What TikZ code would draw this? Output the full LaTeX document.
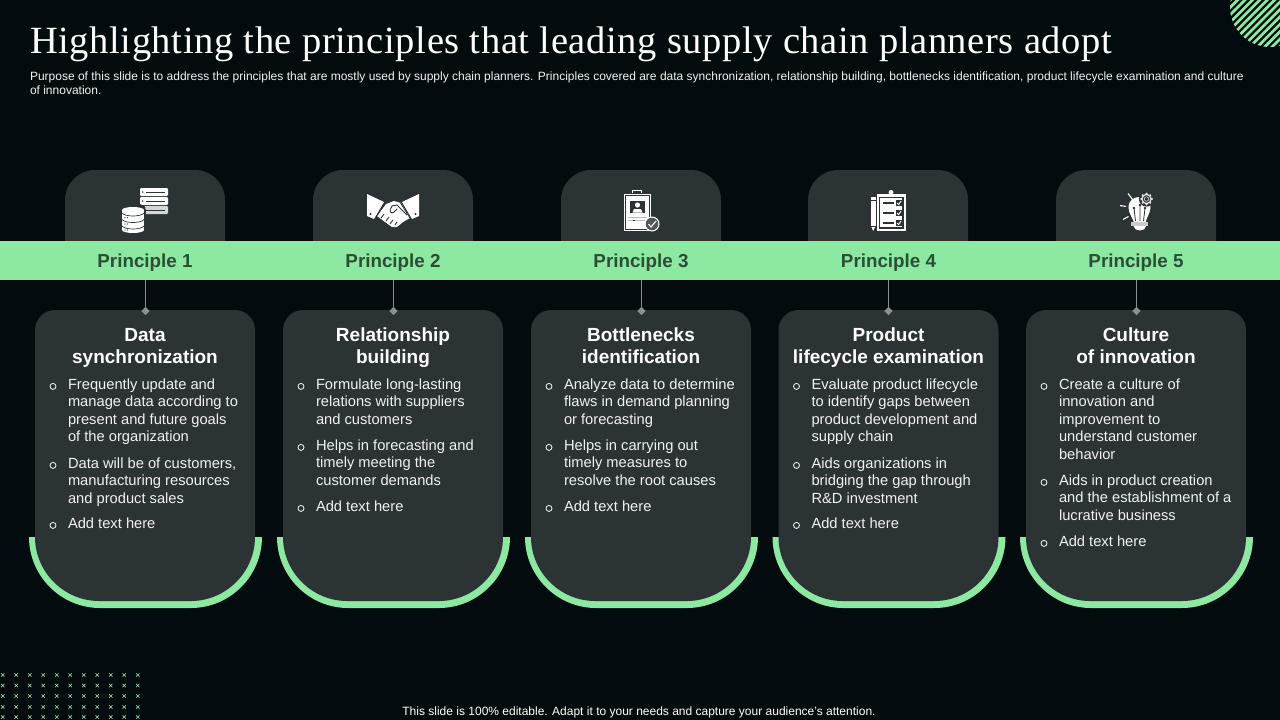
\documentclass[tikz,border=0pt]{standalone}
\usepackage{fontspec}
\setmainfont{Liberation Sans}
\newfontfamily\titlefont[LetterSpace=1.6]{Liberation Serif}
\usetikzlibrary{shapes.geometric}
\definecolor{bgc}{HTML}{020C0E}
\definecolor{cardc}{HTML}{2B3335}
\definecolor{greenc}{HTML}{8DE8A2}
\definecolor{labelc}{HTML}{2B4F35}
\definecolor{stemc}{HTML}{8A9090}
\definecolor{bodyc}{HTML}{F2F2F2}
\tikzset{
  txt/.style={inner sep=0pt,outer sep=0pt},
  bodytxt/.style={txt,anchor=north west,align=left,text=bodyc,font=\fontsize{14.7}{17.6}\selectfont},
  headtxt/.style={txt,anchor=base,align=center,text=white,font=\fontsize{19}{21.8}\selectfont\bfseries},
  bandlabel/.style={txt,anchor=base,text=labelc,font=\fontsize{18.8}{22}\selectfont\bfseries},
  bulletmark/.style={draw=bodyc,line width=0.85pt,circle,inner sep=0pt,minimum size=6pt},
  stem/.style={draw=stemc,line width=0.8pt},
  tip/.style={fill=stemc,diamond,inner sep=0pt,minimum width=8.5pt,minimum height=8.5pt},
}
\newcommand{\bul}[4]{% name, card left, baseline, text
  \node[bulletmark] (#1m) at (#2+18,#3-2.6) {};
  \node[bodytxt] (#1) at (#2+33,#3-11) {\rule{0pt}{11pt}#4};
}
\newcommand{\card}[2]{% card left, tab left
  \fill[greenc] (#1-6,537)
     .. controls (#1-6,576) and (#1+26,608) .. (#1+65,608) -- (#1+156,608)
     .. controls (#1+195,608) and (#1+227,576) .. (#1+227,537) -- cycle;
  \fill[cardc] (#1+20,310) -- (#1+200,310) .. controls (#1+211,310) and (#1+220,319) .. (#1+220,330) -- (#1+220,537)
     .. controls (#1+220,572) and (#1+191,601) .. (#1+156,601) -- (#1+64,601)
     .. controls (#1+29,601) and (#1,572) .. (#1,537) -- (#1,330) .. controls (#1,319) and (#1+9,310) .. (#1+20,310) -- cycle;
  \fill[cardc] (#2,245) -- (#2,200) .. controls (#2,183.5) and (#2+13.5,170) .. (#2+30,170) -- (#2+130,170) .. controls (#2+146.5,170) and (#2+160,183.5) .. (#2+160,200) -- (#2+160,245) -- cycle;
}
\begin{document}
\begin{tikzpicture}[x=1pt,y=-1pt]
\useasboundingbox (0,0) rectangle (1280,720);
\fill[bgc] (0,0) rectangle (1280,720);

% corner hatch
\begin{scope}
  \clip (1270,7) circle[radius=40];
  \foreach \k in {-8,...,7}{
    \draw[greenc,line width=2.7pt] (1222+\k*7.4,60) -- (1222+\k*7.4+70,-10);
  }
\end{scope}

% dots
\foreach \yy in {675,685.5,696,707,717}{
  \foreach \n in {0,...,10}{
    \pgfmathsetmacro{\xx}{2.7+\n*13.5}
    \draw[greenc!75!white,line width=0.55pt] (\xx-1.7,\yy-1.7) -- (\xx+1.7,\yy+1.7) (\xx-1.7,\yy+1.7) -- (\xx+1.7,\yy-1.7);
  }
}

% title
\node[txt,anchor=base west,text=white,font=\fontsize{38.5}{42}\selectfont\titlefont] (title) at (30,53) {Highlighting the principles that leading supply chain planners adopt};
\node[txt,anchor=north west,align=left,text=bodyc,font=\fontsize{12}{14.2}\selectfont] (sub) at (30,70) {\rule{0pt}{10.5pt}Purpose of this slide is to address the principles that are mostly used by supply chain planners. Principles covered are data synchronization, relationship building, bottlenecks identification, product lifecycle examination and culture\\of innovation.};

% cards
\card{35}{65}
\card{283}{313}
\card{531}{561}
\card{778.5}{808}
\card{1026}{1056}

% band
\node[fill=greenc,inner sep=0pt,minimum width=1280pt,minimum height=39pt,anchor=north west] (band) at (0,241) {};

% principle labels
\node[bandlabel] (p1) at (145,267.5) {Principle 1};
\node[bandlabel] (p2) at (393,267.5) {Principle 2};
\node[bandlabel] (p3) at (641,267.5) {Principle 3};
\node[bandlabel] (p4) at (888.5,267.5) {Principle 4};
\node[bandlabel] (p5) at (1136,267.5) {Principle 5};

% stems
\foreach \nm/\xx in {a/145.5,b/393.5,c/641.5,d/888.5,e/1136.5}{
  \node[tip] (t\nm) at (\xx,311) {};
  \draw[stem] (band.south -| t\nm) -- (t\nm.center);
}

% headings (base anchor is the last line)
\node[headtxt] (ha) at (145,363.3) {Data\\synchronization};
\node[headtxt] (hb) at (393,363.3) {Relationship\\building};
\node[headtxt] (hc) at (641,363.3) {Bottlenecks\\identification};
\node[headtxt] (hd) at (888.5,363.3) {Product\\lifecycle examination};
\node[headtxt] (he) at (1136,363.3) {Culture\\of innovation};

% bullets
\bul{a1}{35}{389}{Frequently update and\\manage data according to\\present and future goals\\of the organization}
\bul{a2}{35}{468}{Data will be of customers,\\manufacturing resources\\and product sales}
\bul{a3}{35}{528}{Add text here}
\bul{b1}{283}{389}{Formulate long-lasting\\relations with suppliers\\and customers}
\bul{b2}{283}{450}{Helps in forecasting and\\timely meeting the\\customer demands}
\bul{b3}{283}{511}{Add text here}
\bul{c1}{531}{389}{Analyze data to determine\\flaws in demand planning\\or forecasting}
\bul{c2}{531}{450}{Helps in carrying out\\timely measures to\\resolve the root causes}
\bul{c3}{531}{511}{Add text here}
\bul{d1}{778.5}{389}{Evaluate product lifecycle\\to identify gaps between\\product development and\\supply chain}
\bul{d2}{778.5}{468}{Aids organizations in\\bridging the gap through\\R\&D investment}
\bul{d3}{778.5}{528}{Add text here}
\bul{e1}{1026}{389}{Create a culture of\\innovation and\\improvement to\\understand customer\\behavior}
\bul{e2}{1026}{485}{Aids in product creation\\and the establishment of a\\lucrative business}
\bul{e3}{1026}{546}{Add text here}

% footer
\node[txt,anchor=base,text=white,font=\fontsize{12}{14}\selectfont] (foot) at (639,715) {This slide is 100\% editable. Adapt it to your needs and capture your audience's attention.};

% ---- icon 1: servers + database
\foreach \yy in {188,197}{
  \fill[white,rounded corners=1.2pt] (140,\yy) rectangle (168,\yy+8);
  \draw[cardc,line width=0.9pt] (146,\yy+4) -- (165,\yy+4);
  \fill[cardc] (142.7,\yy+4) circle[radius=0.8];
}
\fill[white!80!cardc,rounded corners=1.2pt] (144,206) rectangle (168,214);
\draw[cardc,line width=0.9pt] (146,210) -- (165,210);
\fill[cardc] (120.5,209) rectangle (145.5,234);
\fill[cardc] (133,208) ellipse[x radius=12.5,y radius=4.5];
\fill[white] (122,210) rectangle (144,230);
\fill[white] (133,210) ellipse[x radius=11,y radius=3];
\fill[white] (133,230) ellipse[x radius=11,y radius=3];
\foreach \yy in {213,219.5,226}{
  \draw[cardc,line width=0.7pt] (122,\yy) .. controls (125,\yy+4) and (141,\yy+4) .. (144,\yy);
}
\foreach \yy in {217.5,224,230}{\fill[cardc] (125,\yy) circle[radius=0.6];\fill[cardc] (127.5,\yy) circle[radius=0.6];}

% ---- icon 2: handshake
\fill[white] (367,194) -- (384,202) -- (374,219) -- (367,216) -- cycle;
\fill[white] (419,194) -- (402,202) -- (412,219) -- (419,216) -- cycle;
\fill[cardc] (370.5,214) circle[radius=1.1];
\fill[cardc] (415.5,214) circle[radius=1.1];
\fill[white] (386,204) -- (394,201) -- (401,203) -- (410,218) -- (403,222) -- (397,227) -- (392,227) -- (385,222) -- (377,216) -- cycle;
\draw[cardc,line width=0.9pt,line join=round] (407,215) -- (397,205) -- (392,206) .. controls (388,211) and (391,215) .. (394,212) -- (397,209);
\draw[cardc,line width=0.9pt] (384,214) -- (381,218) (389,217) -- (386,221) (393,220) -- (390,224) (397,222) -- (395,225);
\draw[cardc,line width=0.8pt] (385.5,203) -- (376,217) (400.5,203) -- (410,218);

% ---- icon 3: ID clipboard
\fill[white] (624,193.5) rectangle (650.5,230.5);
\draw[cardc,line width=0.6pt] (625.6,195.2) rectangle (648.9,228.8);
\fill[cardc] (630,201) rectangle (645,213);
\fill[white] (637.5,205) circle[radius=2.6];
\fill[white] (632.5,212.5) -- (634,209) -- (641,209) -- (642.5,212.5) -- cycle;
\draw[white,fill=cardc,line width=0.9pt] (632.5,193) -- (632.5,190.5) -- (641.5,190.5) -- (641.5,193);
\draw[stemc!60!white,line width=0.7pt] (628,217) -- (646,217) (628,220) -- (646,220);
\draw[cardc,line width=0.7pt] (633,220) -- (635,220);
\fill[white] (652,224) circle[radius=7.5];
\fill[stemc!40!cardc] (652,224) circle[radius=6.3];
\draw[white,line width=1.1pt,line join=round] (648.5,224) -- (651,227) -- (656,221);

% ---- icon 4: checklist + pencil
\fill[white] (871,197) rectangle (875.5,226);
\fill[white] (871,226) -- (875.5,226) -- (873.2,231) -- cycle;
\draw[cardc,line width=0.6pt] (871,200) -- (875.5,200) (871,226) -- (875.5,226);
\fill[white] (876.5,194) rectangle (906,231);
\fill[white] (891,192.5) circle[radius=2.5];
\fill[cardc] (878.8,196.5) rectangle (903.7,228.5);
\fill[white] (880.2,197.9) rectangle (902.3,227.1);
\foreach \yy in {203,213,223}{
  \draw[cardc,line width=1.5pt] (883,\yy) -- (894,\yy);
  \fill[cardc] (896,\yy-3.2) rectangle (902,\yy+3.2);
  \draw[white,line width=0.9pt] (897,\yy) -- (898.6,\yy+1.6) -- (901,\yy-2);
}

% ---- icon 5: bulb with gear
\draw[white,line width=1.1pt] (1128,193.5) -- (1132.5,199.5) (1120,205.5) -- (1126,206.5) (1123,219.5) -- (1128.5,216.5);
\fill[white] (1135,226) .. controls (1133,217) and (1128.5,214) .. (1128.5,207.5) .. controls (1128.5,200) and (1134,197) .. (1139.5,197) .. controls (1146,197) and (1151,201) .. (1150.5,208) .. controls (1150,214) and (1146,217) .. (1145,226) -- cycle;
\fill[white!75!cardc] (1131,222) rectangle (1148,226);
\fill[white] (1133.5,226) -- (1146,226) .. controls (1146,232) and (1134,232) .. (1133.5,226) -- cycle;
\draw[cardc,line width=0.8pt] (1134,208) -- (1135.5,221) (1140,205) -- (1140,221) (1145,208) -- (1143.5,221);
\fill[cardc] (1134,208) circle[radius=1.4] (1140,205) circle[radius=1.4] (1145,208) circle[radius=1.4];
\fill[cardc] (1146.5,199) circle[radius=7.6];
\foreach \a in {0,45,...,315}{\fill[white!85!cardc] (1146.5,199) ++(\a:5.3) circle[radius=1.2];}
\draw[white!85!cardc,line width=1.3pt] (1146.5,199) circle[radius=4.6];
\fill[cardc] (1146.5,199) circle[radius=2.3];
\draw[white!85!cardc,line width=0.6pt] (1146.5,199) circle[radius=2.2];
\end{tikzpicture}
\end{document}
